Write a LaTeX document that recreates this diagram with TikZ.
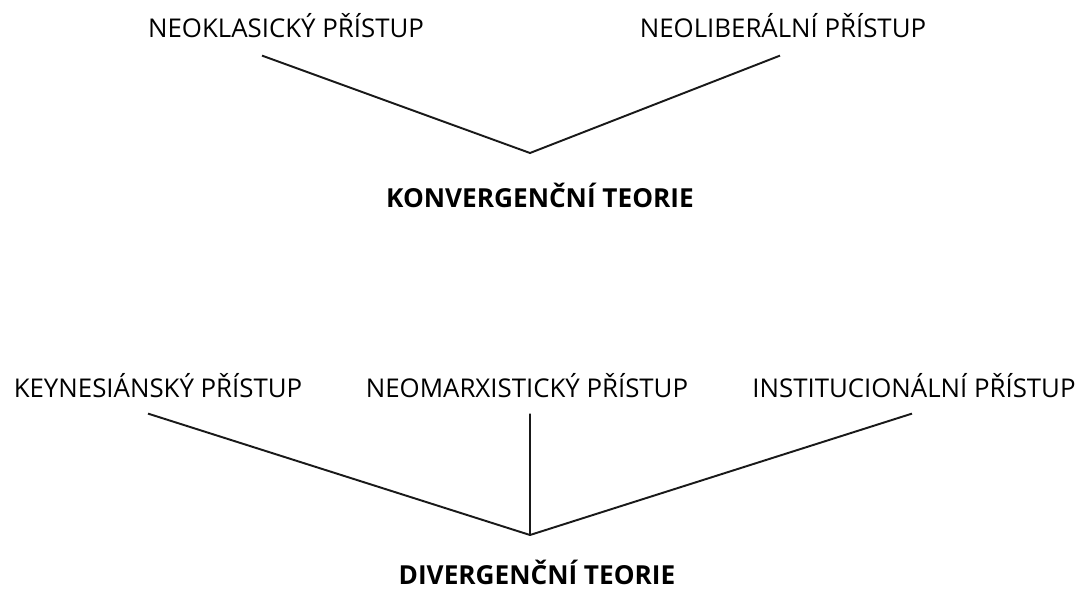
\documentclass[tikz,border=0pt]{standalone}
\usepackage{fontspec}
\setmainfont{Open Sans}
\usetikzlibrary{positioning}

\begin{document}
\begin{tikzpicture}[x = 0.02cm, y = -0.02cm, approach/.style = {font=\fontsize{14.7}{17}\selectfont, inner sep=0pt, anchor=base}, theory/.style = {font=\fontsize{14.9}{17}\selectfont\bfseries, inner sep=0pt, anchor=base}, branch/.style = {line width=1.1pt, black!90}]

    \useasboundingbox (0,0) rectangle (1083,589);

    % convergent theories
    \node[approach] (neoklas) at (286,37) {NEOKLASICKÝ PŘÍSTUP};
    \node[approach] (neolib) at (783,37) {NEOLIBERÁLNÍ PŘÍSTUP};
    \coordinate (konvtip) at (530,153);
    \node[theory] (konv) at (540,207) {KONVERGENČNÍ TEORIE};
    \draw[branch] ([xshift=-0.48cm,yshift=-0.36cm]neoklas.south) -- (konvtip) -- ([xshift=-0.06cm,yshift=-0.36cm]neolib.south);

    % divergent theories
    \node[approach] (keynes) at (158,397) {KEYNESIÁNSKÝ PŘÍSTUP};
    \node[approach] (neomarx) at (527,397) {NEOMARXISTICKÝ PŘÍSTUP};
    \node[approach] (instit) at (914,397) {INSTITUCIONÁLNÍ PŘÍSTUP};
    \coordinate (divtip) at (530,535);
    \node[theory] (div) at (537,584) {DIVERGENČNÍ TEORIE};
    \draw[branch] ([xshift=-0.2cm,yshift=-0.32cm]keynes.south) -- (divtip);
    \draw[branch] ([xshift=0.06cm,yshift=-0.32cm]neomarx.south) -- (divtip);
    \draw[branch] ([xshift=-0.04cm,yshift=-0.32cm]instit.south) -- (divtip);

\end{tikzpicture}
\end{document}
